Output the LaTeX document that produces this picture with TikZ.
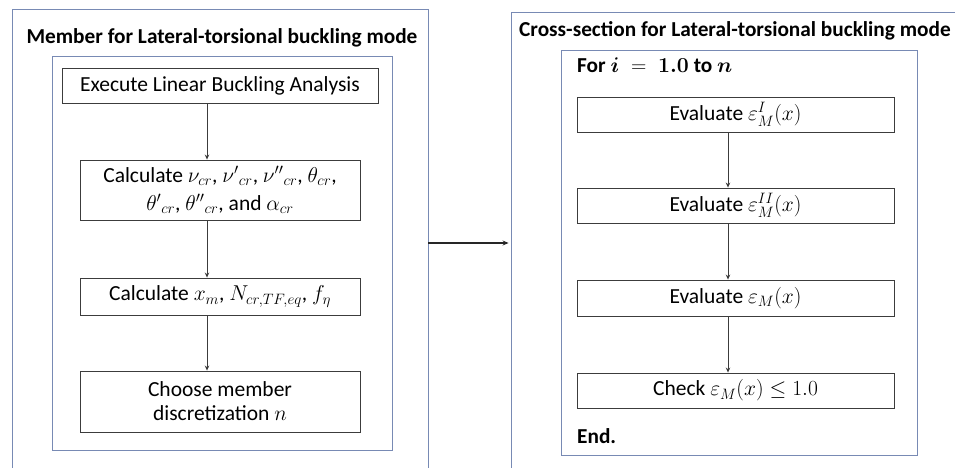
\RequirePackage{fix-cm}
\documentclass[tikz,border=0pt]{standalone}
\usepackage{amsmath}
\usepackage{bm}
\usepackage{fontspec}
\setmainfont{Carlito}
\usetikzlibrary{arrows.meta}

\definecolor{frameblue}{RGB}{120,138,180}
\definecolor{boxline}{RGB}{60,60,60}

\tikzset{
  frame/.style={draw=frameblue, line width=0.9pt, rectangle, inner sep=0pt},
  stepbox/.style={draw=boxline, line width=0.9pt, rectangle, inner sep=0pt,
    align=center, font=\fontsize{21.5}{23}\selectfont},
  heading/.style={font=\fontsize{21.3}{24}\selectfont\bfseries, inner sep=0pt},
  flow/.style={-{Stealth[length=5pt,width=4.5pt]}, line width=0.7pt, draw=boxline},
  bigflow/.style={-{Stealth[length=6pt,width=5pt]}, line width=1.8pt, draw=black!85},
}

\begin{document}
\begin{tikzpicture}[x=1pt, y=-1pt]
  \useasboundingbox (0,0) rectangle (955,468);
  \clip (0,0) rectangle (955,468);

  % ---- member level ----
  \node[frame, minimum width=416pt, minimum height=481pt] (outerL) at (220,249.5) {};
  \node[heading, anchor=base] (titleL) at (222,44) {Member for Lateral-torsional buckling mode};
  \node[frame, minimum width=340pt, minimum height=394pt] (innerL) at (222,253) {};

  \node[stepbox, minimum width=316pt, minimum height=35pt] (b1) at (220,85.5)
    {Execute Linear Buckling Analysis};
  \node[stepbox, minimum width=280pt, minimum height=60pt] (b2) at (220,190)
    {Calculate $\nu_{cr}$, $\nu'{}_{cr}$, $\nu''{}_{cr}$, $\theta_{cr}$,\\[5pt]
     $\theta'{}_{cr}$, $\theta''{}_{cr}$, and $\alpha_{cr}$};
  \node[stepbox, minimum width=280pt, minimum height=37pt] (b3) at (220,296.5)
    {Calculate $x_m$, $N_{cr,TF,eq}$, $f_{\eta}$};
  \node[stepbox, minimum width=280pt, minimum height=61pt] (b4) at (220,401.5)
    {Choose member\\[1pt] discretization $n$};

  \draw[flow] ([xshift=-13pt]b1.south) -- ([xshift=-13pt]b2.north);
  \draw[flow] ([xshift=-13pt]b2.south) -- ([xshift=-13pt]b3.north);
  \draw[flow] ([xshift=-13pt]b3.south) -- ([xshift=-13pt]b4.north);

  % ---- cross-section level ----
  \node[frame, minimum width=479pt, minimum height=478pt] (outerR) at (750.5,251) {};
  \node[heading, anchor=base west] (titleR) at (519,37)
    {Cross-section for Lateral-torsional buckling mode};
  \node[frame, minimum width=356pt, minimum height=405pt] (innerR) at (739,252.5) {};

  \node[heading, anchor=base west] (loop) at (577,73)
    {For $\bm{i}\;=\;\bm{1.0}$ to $\bm{n}$};

  \node[stepbox, minimum width=317pt, minimum height=35pt] (e1) at (735.5,114.5)
    {Evaluate $\varepsilon_M^{I}(x)$};
  \node[stepbox, minimum width=317pt, minimum height=35pt] (e2) at (735.5,205.5)
    {Evaluate $\varepsilon_M^{II}(x)$};
  \node[stepbox, minimum width=317pt, minimum height=36pt] (e3) at (735.5,298)
    {Evaluate $\varepsilon_M(x)$};
  \node[stepbox, minimum width=317pt, minimum height=35pt] (e4) at (735.5,390.5)
    {Check $\varepsilon_M(x) \leq 1.0$};

  \node[heading, anchor=base west] (endloop) at (577,443) {End.};

  \draw[flow] ([xshift=-7.5pt]e1.south) -- ([xshift=-7.5pt]e2.north);
  \draw[flow] ([xshift=-7.5pt]e2.south) -- ([xshift=-7.5pt]e3.north);
  \draw[flow] ([xshift=-7.5pt]e3.south) -- ([xshift=-7.5pt]e4.north);

  % ---- link between the two levels ----
  \coordinate (linky) at (470,243);
  \draw[bigflow] (outerL.east |- linky) -- ([xshift=-2pt]outerR.west |- linky);
\end{tikzpicture}
\end{document}
